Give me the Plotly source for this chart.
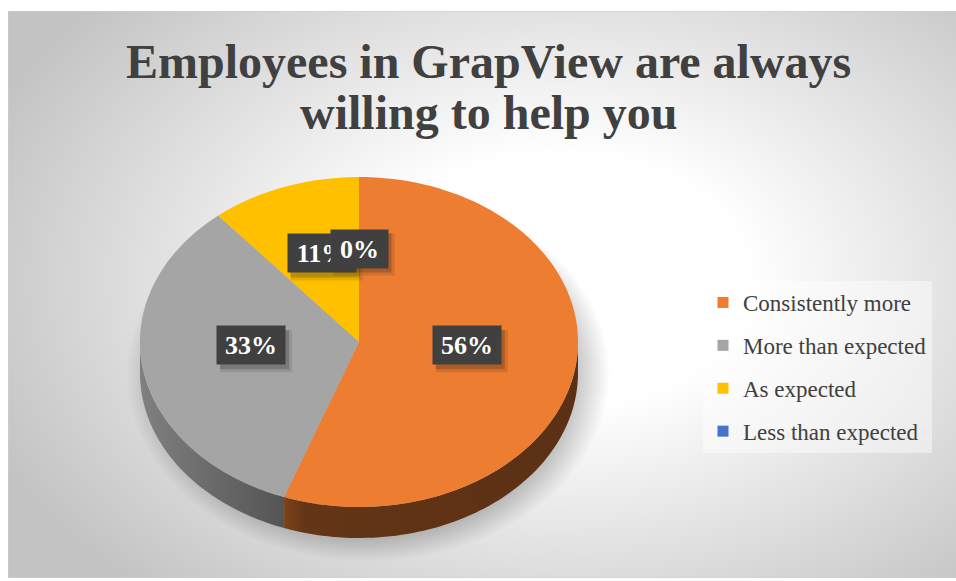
import numpy as np
import plotly.graph_objects as go

# Survey answers
categories = ["Consistently more", "More than expected", "As expected", "Less than expected"]
counts = [5, 3, 1, 0]
slice_colors = ["#ED7D31", "#A5A5A5", "#FFC000", "#4472C4"]
side_scales = [
    [[0, "#7c421a"], [0.07, "#643517"], [1, "#5b3014"]],
    [[0, "#808080"], [1, "#545454"]],
    [[0, "#b88a00"], [1, "#8a6800"]],
    [[0, "#2f5597"], [1, "#203864"]],
]
title_lines = ["Employees in GrapView are always", "willing to help you"]

# Geometry of the tilted pie (page pixels)
CX, CY, RX, RY, DEPTH = 359.0, 342.0, 219.0, 165.0, 31.0
FONT = "Liberation Serif, Times New Roman, serif"

total = float(sum(counts))
shares = [c / total for c in counts]
pct_text = [f"{round(s * 100)}%" for s in shares]
edges = np.concatenate([[0.0], np.cumsum(shares) * 360.0])


def rim(t0, t1, dy=0.0, n=None):
    n = n or max(2, int(abs(t1 - t0) / 1.5) + 2)
    t = np.radians(np.linspace(t0, t1, n))
    return CX + RX * np.sin(t), CY - RY * np.cos(t) + dy


fig = go.Figure()

# radial backdrop
bx0, bx1, by0, by1 = 560 - 620, 560 + 620, 280 - 420, 280 + 420
fig.add_trace(go.Scatter(
    x=[bx0, bx1, bx1, bx0, bx0], y=[by0, by0, by1, by1, by0],
    fill="toself", mode="none", hoverinfo="skip", showlegend=False,
    fillgradient=dict(type="radial",
                      colorscale=[[0, "#ffffff"], [0.3, "#ffffff"], [1, "#c3c3c3"]]),
))

# soft drop shadow under the pie
st = np.radians(np.linspace(0, 360, 181))
fig.add_trace(go.Scatter(
    x=368 + 242 * np.sin(st), y=374 - 188 * np.cos(st),
    fill="toself", mode="none", hoverinfo="skip", showlegend=False,
    fillgradient=dict(type="radial",
                      colorscale=[[0, "rgba(0,0,0,0.30)"], [0.86, "rgba(0,0,0,0.22)"],
                                  [1, "rgba(0,0,0,0)"]]),
))

# side walls (front half only)
for i in range(len(counts)):
    a, b = max(edges[i], 90.0), min(edges[i + 1], 270.0)
    if b <= a:
        continue
    tx, ty = rim(a, b)
    bx, by = rim(b, a, DEPTH)
    fig.add_trace(go.Scatter(
        x=np.concatenate([tx, bx, tx[:1]]), y=np.concatenate([ty, by, ty[:1]]),
        fill="toself", mode="none", hoverinfo="skip", showlegend=False,
        fillgradient=dict(type="horizontal", colorscale=side_scales[i]),
    ))

# top face slices
for i in range(len(counts)):
    if counts[i] == 0:
        continue
    ax, ay = rim(edges[i], edges[i + 1])
    fig.add_trace(go.Scatter(
        x=np.concatenate([[CX], ax, [CX]]), y=np.concatenate([[CY], ay, [CY]]),
        fill="toself", fillcolor=slice_colors[i], mode="none",
        hoverinfo="skip", showlegend=False,
    ))

# legend entries
for name, col in zip(categories, slice_colors):
    fig.add_trace(go.Scatter(
        x=[None], y=[None], mode="markers", name=name, legendgroup=name,
        marker=dict(symbol="square", size=11, color=col),
    ))

# data labels with dark callout boxes
shapes = []
annotations = []
order = [2, 3, 1, 0]
for i in order:
    mid = np.radians((edges[i] + edges[i + 1]) / 2.0)
    lx = CX + 0.5 * RX * np.sin(mid)
    ly = CY - 0.5 * RY * np.cos(mid) - 11
    w = 68 if len(pct_text[i]) > 2 else 57
    h = 38
    shapes.append(dict(type="rect", x0=lx - w / 2 + 3, x1=lx + w / 2 + 7,
                       y0=ly - h / 2 + 4, y1=ly + h / 2 + 8,
                       fillcolor="rgba(0,0,0,0.10)", line=dict(width=0), layer="above"))
    shapes.append(dict(type="rect", x0=lx - w / 2 + 3, x1=lx + w / 2 + 4,
                       y0=ly - h / 2 + 4, y1=ly + h / 2 + 5,
                       fillcolor="rgba(0,0,0,0.18)", line=dict(width=0), layer="above"))
    annotations.append(dict(
        x=lx, y=ly, xref="x", yref="y", text=f"<b>{pct_text[i]}</b>", showarrow=False,
        font=dict(family=FONT, size=26, color="#ffffff"),
        bgcolor="#404040", width=w - 4, height=h - 4, borderpad=2,
        xanchor="center", yanchor="middle",
    ))

# chart frame
shapes.append(dict(type="rect", x0=8, x1=957, y0=11, y1=578,
                   line=dict(color="#cfcfcf", width=1), layer="above"))

for text, yc in zip(title_lines, [61, 112]):
    annotations.append(dict(
        x=488, y=yc, xref="x", yref="y", text=f"<b>{text}</b>", showarrow=False,
        font=dict(family=FONT, size=48, color="#404040"),
        xanchor="center", yanchor="middle",
    ))

fig.update_layout(
    width=956, height=581,
    margin=dict(l=0, r=0, t=0, b=0),
    paper_bgcolor="#ffffff", plot_bgcolor="rgba(0,0,0,0)",
    xaxis=dict(visible=False, range=[8, 956], domain=[8 / 956, 1], fixedrange=True),
    yaxis=dict(visible=False, range=[578, 11], domain=[3 / 581, 570 / 581], fixedrange=True),
    showlegend=True,
    legend=dict(
        x=703 / 956, y=1 - 281 / 581, xanchor="left", yanchor="top",
        bgcolor="rgba(255,255,255,0.45)", borderwidth=0,
        font=dict(family=FONT, size=23, color="#404040"),
        tracegroupgap=10, traceorder="grouped",
    ),
    shapes=shapes,
    annotations=annotations,
)

fig.write_html("out.html")
